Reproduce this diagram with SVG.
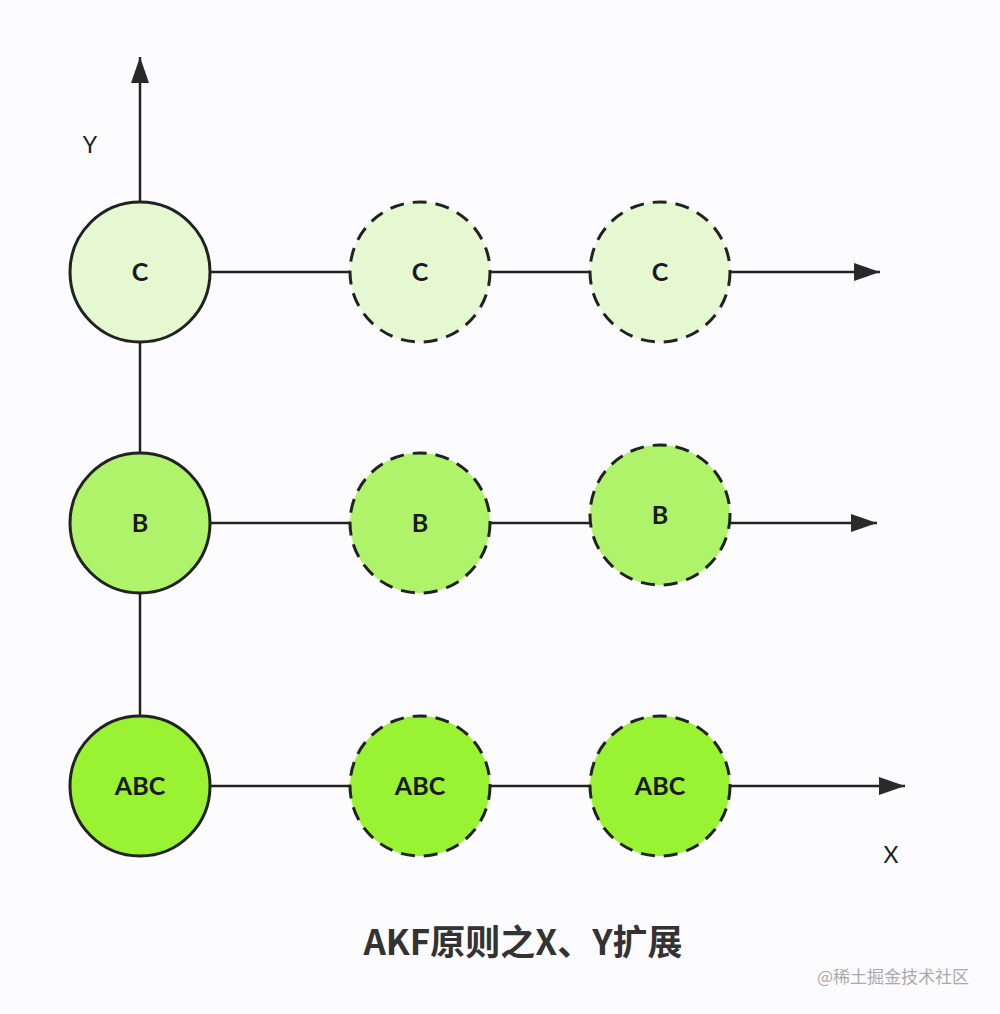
<svg xmlns="http://www.w3.org/2000/svg" width="1000" height="1014" viewBox="0 0 1000 1014">
<defs>
<marker id="arr" viewBox="0 0 26 18" refX="26" refY="9" markerWidth="26" markerHeight="18" markerUnits="userSpaceOnUse" orient="auto">
<path d="M0,0 L26,9 L0,18 Z" fill="#2a2a2a"/>
</marker>
<style>
.ln{stroke:#222;stroke-width:2.5;fill:none}
.node{stroke:#222;stroke-width:3}
.dash{stroke-dasharray:14 9}
.c{fill:#e5f8d2}
.b{fill:#aef36a}
.a{fill:#99f232}
.lbl{font-family:Lato,"Open Sans","Liberation Sans",sans-serif;font-weight:bold;font-size:25px;fill:#1a1a1a;text-anchor:middle}
.ax{font-family:Lato,"Liberation Sans",sans-serif;font-size:23px;fill:#222;text-anchor:middle}
</style>
</defs>
<rect width="1000" height="1014" fill="#fcfcfe"/>
<g id="connectors">
<line class="ln" x1="140" y1="202" x2="140" y2="57" marker-end="url(#arr)"/>
<line class="ln" x1="140" y1="342" x2="140" y2="452"/>
<line class="ln" x1="140" y1="593" x2="140" y2="715"/>
<line class="ln" x1="210" y1="272" x2="350" y2="272"/>
<line class="ln" x1="490" y1="272" x2="590" y2="272"/>
<line class="ln" x1="730" y1="272" x2="880" y2="272" marker-end="url(#arr)"/>
<line class="ln" x1="210" y1="523" x2="350" y2="523"/>
<line class="ln" x1="490" y1="523" x2="590" y2="523"/>
<line class="ln" x1="730" y1="523" x2="877" y2="523" marker-end="url(#arr)"/>
<line class="ln" x1="210" y1="786" x2="350" y2="786"/>
<line class="ln" x1="490" y1="786" x2="590" y2="786"/>
<line class="ln" x1="730" y1="786" x2="905" y2="786" marker-end="url(#arr)"/>
</g>
<text class="ax" x="90" y="153">Y</text>
<text class="ax" x="891" y="863">X</text>
<g id="c1"><circle class="node c" cx="140" cy="272" r="70"/><text class="lbl" x="140" y="281">C</text></g>
<g id="c2"><circle class="node c dash" cx="420" cy="272" r="70"/><text class="lbl" x="420" y="281">C</text></g>
<g id="c3"><circle class="node c dash" cx="660" cy="272" r="70"/><text class="lbl" x="660" y="281">C</text></g>
<g id="b1"><circle class="node b" cx="140" cy="523" r="70"/><text class="lbl" x="140" y="532">B</text></g>
<g id="b2"><circle class="node b dash" cx="420" cy="523" r="70"/><text class="lbl" x="420" y="532">B</text></g>
<g id="b3"><circle class="node b dash" cx="660" cy="515" r="70"/><text class="lbl" x="660" y="524">B</text></g>
<g id="a1"><circle class="node a" cx="140" cy="786" r="70"/><text class="lbl" x="140" y="795">ABC</text></g>
<g id="a2"><circle class="node a dash" cx="420" cy="786" r="70"/><text class="lbl" x="420" y="795">ABC</text></g>
<g id="a3"><circle class="node a dash" cx="660" cy="786" r="70"/><text class="lbl" x="660" y="795">ABC</text></g>
<text x="523" y="955" font-family="'Noto Sans CJK SC',sans-serif" font-weight="bold" font-size="35" fill="#333" text-anchor="middle">AKF原则之X、Y扩展</text>
<text x="893" y="983" font-family="'Noto Sans CJK SC',sans-serif" font-size="17" fill="#aaa" text-anchor="middle">@稀土掘金技术社区</text>
</svg>
